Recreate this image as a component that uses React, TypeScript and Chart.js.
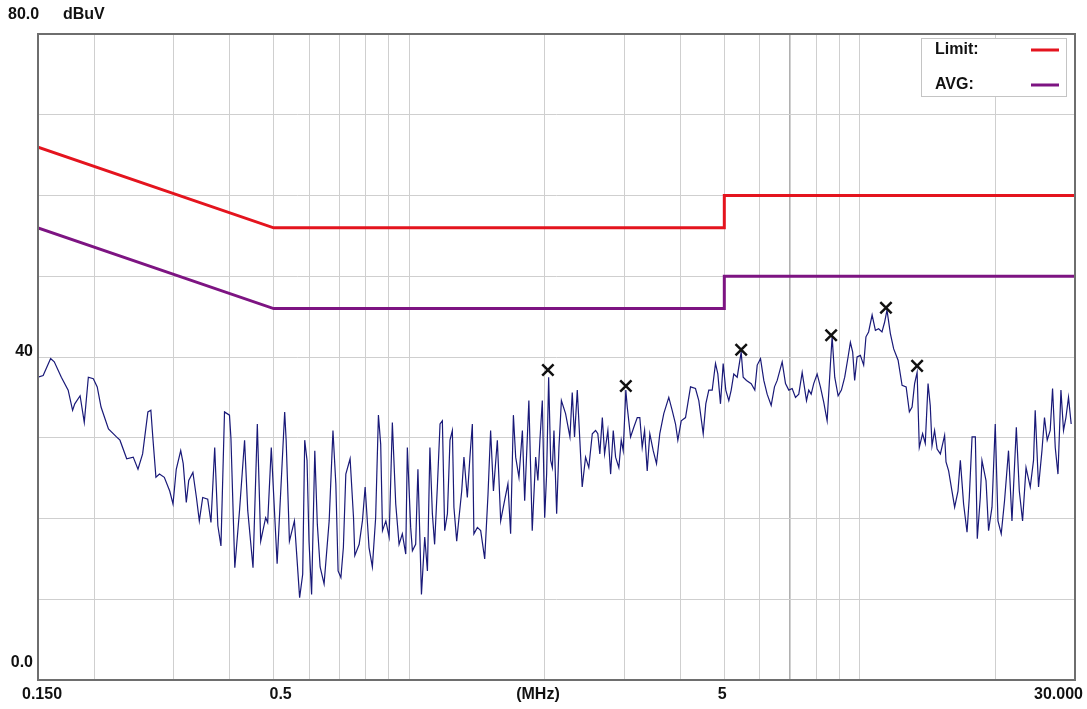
import React, { useEffect, useRef } from "react";
import { Chart, registerables } from "chart.js";

Chart.register(...registerables);

// ---- measured trace (frequency in MHz, level in dBuV) ----
const FREQ_MHZ = [
  0.150, 0.154, 0.160, 0.163, 0.169, 0.175, 0.179, 0.181, 0.186, 0.190,
  0.194, 0.199, 0.203, 0.207, 0.215, 0.224, 0.228, 0.236, 0.244, 0.250,
  0.256, 0.263, 0.267, 0.270, 0.274, 0.279, 0.286, 0.294, 0.299, 0.304,
  0.311, 0.315, 0.320, 0.324, 0.331, 0.337, 0.342, 0.348, 0.357, 0.363,
  0.370, 0.376, 0.382, 0.389, 0.399, 0.402, 0.410, 0.420, 0.431, 0.438,
  0.450, 0.460, 0.468, 0.480, 0.485, 0.494, 0.509, 0.529, 0.533, 0.542,
  0.556, 0.571, 0.580, 0.586, 0.593,
  0.599, 0.607, 0.617, 0.625, 0.634, 0.647, 0.664, 0.677, 0.687, 0.695,
  0.705, 0.714, 0.723, 0.739, 0.752, 0.757, 0.774, 0.787, 0.798, 0.814,
  0.828, 0.842, 0.854, 0.864, 0.872, 0.887, 0.902, 0.917, 0.933, 0.949,
  0.965, 0.982, 0.990, 1.007, 1.016, 1.033, 1.045, 1.056, 1.064, 1.082,
  1.097, 1.111, 1.125, 1.138, 1.154, 1.170, 1.184, 1.198, 1.215, 1.231,
  1.246, 1.256, 1.274, 1.289, 1.307, 1.322, 1.345, 1.363, 1.380, 1.391,
  1.416, 1.440, 1.470, 1.495, 1.515, 1.537, 1.568, 1.595, 1.627, 1.655,
  1.678, 1.702, 1.722, 1.751, 1.782, 1.803, 1.842, 1.874, 1.907, 1.929,
  1.949, 1.973, 1.997, 2.017, 2.038, 2.059, 2.077, 2.094, 2.123, 2.148,
  2.175, 2.222, 2.272,
  2.299, 2.326, 2.359, 2.390, 2.419, 2.461, 2.502, 2.547, 2.590, 2.620,
  2.647, 2.681, 2.712, 2.758, 2.797, 2.835, 2.869, 2.917, 2.953, 2.983,
  3.023, 3.045, 3.097, 3.149, 3.205, 3.247, 3.287, 3.327, 3.372, 3.417,
  3.477, 3.536, 3.596, 3.670, 3.765, 3.831, 3.897, 3.943, 4.012, 4.101,
  4.207, 4.315, 4.389, 4.489, 4.549, 4.619, 4.700, 4.780, 4.837, 4.903,
  4.971, 5.038, 5.116, 5.179, 5.248, 5.340, 5.450, 5.506, 5.600, 5.736,
  5.843, 5.915, 6.016, 6.118, 6.223, 6.353, 6.461, 6.551, 6.720, 6.835,
  6.951, 7.072, 7.193, 7.315, 7.443, 7.609, 7.697, 7.793, 7.895, 8.034,
  8.170, 8.309, 8.455,
  8.600, 8.674, 8.790, 8.944, 9.095, 9.250, 9.410, 9.522, 9.634, 9.732,
  9.853, 10.02, 10.19, 10.31, 10.45, 10.64, 10.82, 11.00, 11.19, 11.34,
  11.48, 11.68, 11.88, 12.15, 12.40, 12.66, 12.87, 13.05, 13.22, 13.39,
  13.54, 13.77, 13.96, 14.16, 14.32, 14.45, 14.64, 14.83, 15.08, 15.41,
  15.52, 15.73, 16.00, 16.22, 16.50, 16.70, 16.98, 17.28, 17.48, 17.73,
  18.03, 18.21, 18.49, 18.65, 19.04, 19.29, 19.63, 19.96, 20.24, 20.58,
  20.93, 21.36, 21.74, 22.23, 22.57, 22.95, 23.36, 23.87, 24.27, 24.48,
  24.90, 25.34, 25.67, 26.03, 26.43, 26.75, 27.12, 27.50, 27.92, 28.29,
  28.64, 29.02, 29.42,
];

const LEVEL_DBUV = [
  37.5, 37.7, 39.8, 39.4, 37.5, 35.9, 33.4, 34.2, 35.2, 31.9,
  37.5, 37.3, 36.3, 33.8, 31.1, 30.1, 29.7, 27.4, 27.6, 26.1,
  28.0, 33.2, 33.4, 29.7, 25.1, 25.5, 25.1, 23.4, 21.8, 26.1,
  28.4, 26.8, 22.0, 24.7, 25.7, 22.6, 19.7, 22.6, 22.4, 19.5,
  28.8, 19.1, 16.6, 33.2, 32.8, 29.9, 13.9, 21.0, 29.7, 21.0,
  13.9, 31.7, 17.2, 20.1, 19.5, 28.8, 14.4, 33.2, 29.7, 17.2,
  19.7, 10.2, 13.1, 29.7, 27.2,
  17.2, 10.6, 28.4, 19.3, 14.0, 11.9, 19.7, 30.9, 24.3, 13.5,
  12.7, 16.4, 25.5, 27.4, 20.1, 15.4, 16.8, 19.7, 23.9, 16.4,
  14.0, 20.1, 32.8, 29.2, 18.5, 19.7, 17.7, 31.9, 21.8, 16.8,
  18.1, 15.6, 28.8, 18.9, 16.0, 16.8, 26.1, 17.2, 10.6, 17.7,
  13.5, 28.8, 20.6, 16.8, 23.9, 31.7, 32.1, 18.5, 20.6, 29.7,
  30.9, 21.4, 17.2, 20.1, 23.4, 27.6, 22.6, 27.6, 31.7, 18.1,
  18.9, 18.5, 15.0, 23.0, 30.9, 23.4, 29.7, 19.7, 22.2, 24.3,
  18.1, 32.8, 27.6, 25.1, 30.9, 22.2, 34.6, 18.5, 27.6, 24.7,
  29.7, 34.6, 20.1, 25.5, 37.5, 27.2, 26.3, 30.9, 20.6, 28.8,
  34.6, 33.0, 30.1,
  35.6, 30.1, 35.9, 29.7, 23.9, 27.6, 26.3, 30.5, 30.9, 30.5,
  28.0, 32.5, 28.0, 30.9, 25.5, 30.9, 27.6, 26.3, 29.7, 28.4,
  35.9, 33.8, 30.1, 31.3, 32.5, 32.5, 28.8, 30.9, 25.9, 30.5,
  28.4, 26.8, 30.5, 33.0, 35.0, 33.4, 31.7, 29.7, 32.1, 32.5,
  36.3, 36.1, 34.6, 30.5, 34.2, 35.9, 35.9, 39.2, 37.9, 34.2,
  39.2, 35.9, 34.6, 35.9, 37.9, 37.5, 40.6, 37.5, 37.1, 36.7,
  35.9, 39.0, 39.8, 37.1, 35.4, 34.0, 36.3, 37.1, 39.4, 36.7,
  35.9, 36.1, 35.0, 35.4, 38.1, 34.6, 35.9, 35.4, 36.7, 37.9,
  36.3, 34.4, 32.1,
  39.2, 42.5, 37.5, 35.2, 35.9, 37.5, 40.0, 41.8, 40.6, 37.1,
  40.0, 40.2, 39.0, 42.5, 43.1, 45.2, 43.3, 43.5, 43.1, 44.3,
  45.8, 42.9, 41.0, 39.6, 36.5, 36.3, 33.2, 33.8, 36.7, 38.1,
  28.8, 30.5, 29.3, 36.7, 34.0, 29.0, 30.9, 28.6, 28.0, 30.3,
  27.0, 25.9, 23.4, 21.4, 23.4, 27.2, 21.8, 18.3, 22.6, 30.1,
  30.1, 17.5, 22.6, 27.2, 24.7, 18.5, 21.4, 31.7, 19.7, 18.1,
  22.2, 28.4, 19.7, 31.3, 23.4, 19.7, 26.3, 23.9, 27.2, 33.4,
  23.9, 28.4, 32.5, 29.7, 30.9, 36.1, 28.8, 25.5, 35.9, 30.9,
  32.5, 35.0, 31.7,
];

// ---- peak markers ----
const PEAK_FREQ = [2.03, 3.023, 5.45, 8.63, 11.42, 13.39];
const PEAK_LEVEL = [38.4, 36.4, 40.9, 42.7, 46.1, 38.9];

// ---- limit lines ----
const LIMIT_FREQ = [0.15, 0.5, 5, 5, 30];
const LIMIT_QP = [66, 56, 56, 60, 60];
const LIMIT_AVG = [56, 46, 46, 50, 50];

// ---- axes ----
const GRID_FREQS = [
  0.15, 0.2, 0.3, 0.4, 0.5, 0.6, 0.7, 0.8, 0.9,
  1, 2, 3, 4, 5, 6, 7, 8, 9, 10, 20, 30,
];
const Y_MIN = 0;
const Y_MAX = 80;
const Y_STEP = 10;
const Y_LABEL_VALUES = [40, 0];
const Y_LABEL_TEXT = ["40", "0.0"];
const Y_TOP_LABEL = "80.0";
const Y_UNIT = "dBuV";
const X_LABEL_VALUES = [0.15, 0.5, 2, 5, 30];
const X_LABEL_TEXT = ["0.150", "0.5", "(MHz)", "5", "30.000"];
const LEGEND_NAMES = ["Limit:", "AVG:"];

const RED = "rgb(228,20,30)";
const PURPLE = "rgb(125,20,130)";
const TRACE = "rgb(25,25,120)";

const FONT = 'bold 16px "Liberation Sans", Arial, sans-serif';

const overlay = {
  id: "emiOverlay",
  afterDraw(chart: any) {
    const { ctx, chartArea: a, scales } = chart;
    const xs = scales.x;
    const ys = scales.y;
    ctx.save();
    // frame
    ctx.strokeStyle = "#6e6e6e";
    ctx.lineWidth = 2;
    ctx.strokeRect(a.left, a.top, a.right - a.left, a.bottom - a.top);

    ctx.fillStyle = "#111";
    ctx.font = FONT;
    ctx.textBaseline = "middle";
    // y labels
    ctx.textAlign = "left";
    ctx.fillText(Y_TOP_LABEL, 8, 15);
    ctx.fillText(Y_UNIT, 63, 15);
    ctx.textAlign = "right";
    Y_LABEL_VALUES.forEach((v, i) => {
      const py = ys.getPixelForValue(v);
      ctx.fillText(Y_LABEL_TEXT[i], 33, v === 0 ? py - 17 : py - 5);
    });
    // x labels
    const xOff = [
      { align: "left", dx: -16 },
      { align: "center", dx: 7 },
      { align: "center", dx: -7 },
      { align: "center", dx: -2 },
      { align: "right", dx: 8 },
    ];
    X_LABEL_VALUES.forEach((v, i) => {
      const px = xs.getPixelForValue(v);
      ctx.textAlign = xOff[i].align as CanvasTextAlign;
      ctx.fillText(X_LABEL_TEXT[i], px + xOff[i].dx, 695);
    });

    // legend box
    const lx = 921, ly = 38, lw = 145, lh = 58;
    ctx.fillStyle = "#fff";
    ctx.fillRect(lx, ly, lw, lh);
    ctx.strokeStyle = "#c4c4c4";
    ctx.lineWidth = 1;
    ctx.strokeRect(lx + 0.5, ly + 0.5, lw, lh);
    const colors = [RED, PURPLE];
    LEGEND_NAMES.forEach((name, i) => {
      const cy = 50 + i * 35;
      ctx.fillStyle = "#111";
      ctx.textAlign = "left";
      ctx.fillText(name, 935, cy);
      ctx.strokeStyle = colors[i];
      ctx.lineWidth = 3;
      ctx.beginPath();
      ctx.moveTo(1031, cy);
      ctx.lineTo(1059, cy);
      ctx.stroke();
    });
    ctx.restore();
  },
};

export default function App() {
  const ref = useRef<HTMLCanvasElement | null>(null);
  useEffect(() => {
    if (!ref.current) return;
    const trace = FREQ_MHZ.map((f, i) => ({ x: f, y: LEVEL_DBUV[i] }));
    const qp = LIMIT_FREQ.map((f, i) => ({ x: f, y: LIMIT_QP[i] }));
    const avg = LIMIT_FREQ.map((f, i) => ({ x: f, y: LIMIT_AVG[i] }));
    const peaks = PEAK_FREQ.map((f, i) => ({ x: f, y: PEAK_LEVEL[i] }));
    const chart = new Chart(ref.current, {
      type: "line",
      data: {
        datasets: [
          {
            label: "Peaks",
            data: peaks,
            showLine: false,
            pointStyle: "crossRot",
            pointRadius: 8,
            pointBorderWidth: 2.5,
            pointBorderColor: "#111",
            borderColor: "#111",
            order: 0,
          },
          {
            label: "Limit",
            data: qp,
            borderColor: RED,
            borderWidth: 3,
            pointRadius: 0,
            tension: 0,
            order: 1,
          },
          {
            label: "AVG",
            data: avg,
            borderColor: PURPLE,
            borderWidth: 3,
            pointRadius: 0,
            tension: 0,
            order: 2,
          },
          {
            label: "Trace",
            data: trace,
            borderColor: TRACE,
            borderWidth: 1.2,
            pointRadius: 0,
            tension: 0,
            order: 3,
          },
        ],
      },
      options: {
        animation: false,
        responsive: false,
        maintainAspectRatio: false,
        parsing: true,
        layout: { padding: { left: 38, right: 12, top: 34, bottom: 29 } },
        plugins: { legend: { display: false }, tooltip: { enabled: false } },
        scales: {
          x: {
            type: "logarithmic",
            min: 0.15,
            max: 30,
            afterBuildTicks: (scale: any) => {
              scale.ticks = GRID_FREQS.map((v) => ({ value: v }));
            },
            ticks: { display: false },
            border: { display: false },
            grid: {
              drawTicks: false,
              color: (c: any) => (c.tick && c.tick.value === 7 ? "#b0b0b0" : "#cfcfcf"),
              lineWidth: (c: any) => (c.tick && c.tick.value === 7 ? 1.6 : 1),
            },
          },
          y: {
            type: "linear",
            min: Y_MIN,
            max: Y_MAX,
            ticks: { display: false, stepSize: Y_STEP },
            border: { display: false },
            grid: { drawTicks: false, color: "#cfcfcf", lineWidth: 1 },
          },
        },
      },
      plugins: [overlay],
    });
    return () => chart.destroy();
  }, []);
  return (
    <div style={{ position: "fixed", left: 0, top: 0, width: 1087, height: 709, background: "#fff" }}>
      <canvas ref={ref} width={1087} height={709} style={{ width: 1087, height: 709, display: "block" }} />
    </div>
  );
}
